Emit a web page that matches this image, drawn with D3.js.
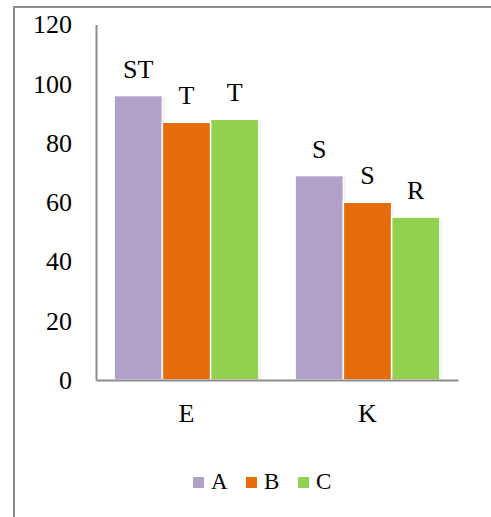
<!DOCTYPE html>
<html>
<head>
<meta charset="utf-8">
<script src="https://cdn.jsdelivr.net/npm/d3@7"></script>
</head>
<body style="margin:0;background:#fff">
<svg id="chart" width="491" height="517" style="display:block"></svg>
<script>
// Data
const categories = ["E", "K"];
const seriesNames = ["A", "B", "C"];
const seriesColors = ["#b1a0c7", "#e46c0a", "#92d050"];
const valuesA = [96, 69];
const valuesB = [87, 60];
const valuesC = [88, 55];
const labelsA = ["ST", "S"];
const labelsB = ["T", "S"];
const labelsC = ["T", "R"];
const yTicks = [0, 20, 40, 60, 80, 100, 120];

const seriesValues = [valuesA, valuesB, valuesC];
const seriesLabels = [labelsA, labelsB, labelsC];

const FONT = "Liberation Serif";

const svg = d3.select("#chart");

// Outer chart frame (runs off the right and bottom edges)
svg.append("rect")
  .attr("x", 14).attr("y", 7)
  .attr("width", 500).attr("height", 530)
  .attr("fill", "#fff")
  .attr("stroke", "#8c8c8c").attr("stroke-width", 2);

const plot = { left: 96, right: 458, top: 24.5, bottom: 380 };

const x0 = d3.scaleBand()
  .domain(categories)
  .range([plot.left, plot.right])
  .paddingInner(0.2)
  .paddingOuter(0.1);

const x1 = d3.scaleBand()
  .domain(seriesNames)
  .range([0, x0.bandwidth()])
  .padding(0);

const y = d3.scaleLinear()
  .domain([0, 120])
  .range([plot.bottom, plot.top]);

const color = d3.scaleOrdinal().domain(seriesNames).range(seriesColors);

// Faint shadow to the right of each bar
const rows = [];
categories.forEach((c, ci) => {
  seriesNames.forEach((s, si) => {
    rows.push({ cat: c, series: s, value: seriesValues[si][ci], label: seriesLabels[si][ci] });
  });
});

const g = svg.append("g");
g.selectAll("rect.shade")
  .data(rows)
  .join("rect")
  .attr("class", "shade")
  .attr("x", d => x0(d.cat) + x1(d.series) + 2)
  .attr("y", d => y(d.value) + 1)
  .attr("width", x1.bandwidth())
  .attr("height", d => y(0) - y(d.value) - 1)
  .attr("fill", "#000")
  .attr("opacity", 0.07);

// Bars
g.selectAll("rect.bar")
  .data(rows)
  .join("rect")
  .attr("class", "bar")
  .attr("x", d => x0(d.cat) + x1(d.series))
  .attr("y", d => y(d.value))
  .attr("width", x1.bandwidth())
  .attr("height", d => y(0) - y(d.value))
  .attr("fill", d => color(d.series))
  .attr("stroke", "#fff")
  .attr("stroke-width", 1.5);

// Bar labels
svg.append("g").selectAll("text")
  .data(rows)
  .join("text")
  .attr("x", d => x0(d.cat) + x1(d.series) + x1.bandwidth() / 2)
  .attr("y", d => y(d.value) - 18)
  .attr("text-anchor", "middle")
  .attr("font-family", FONT)
  .attr("font-size", 26)
  .text(d => d.label);

// Axes
const yAxis = d3.axisLeft(y).tickValues(yTicks).tickSize(0).tickPadding(24);
const ya = svg.append("g").attr("transform", `translate(${plot.left},0)`).call(yAxis);
ya.attr("font-family", null).attr("font-size", null);
ya.select(".domain").attr("stroke", "#8c8c8c").attr("stroke-width", 2);
ya.selectAll("text").attr("fill", "#000").attr("font-family", FONT).attr("font-size", 26);

const xAxis = d3.axisBottom(x0).tickSize(0).tickPadding(24);
const xa = svg.append("g").attr("transform", `translate(0,${plot.bottom})`).call(xAxis);
xa.attr("font-family", null).attr("font-size", null);
xa.select(".domain").attr("stroke", "#8c8c8c").attr("stroke-width", 2);
xa.selectAll("text").attr("fill", "#000").attr("font-family", FONT).attr("font-size", 26);

// Legend
const legendX = [193, 246, 298];
const lg = svg.append("g");
seriesNames.forEach((s, i) => {
  lg.append("rect")
    .attr("x", legendX[i]).attr("y", 477)
    .attr("width", 11).attr("height", 11)
    .attr("fill", color(s));
  lg.append("text")
    .attr("x", legendX[i] + 18).attr("y", 489)
    .attr("font-family", FONT)
    .attr("font-size", 23)
    .text(s);
});
</script>
</body>
</html>
